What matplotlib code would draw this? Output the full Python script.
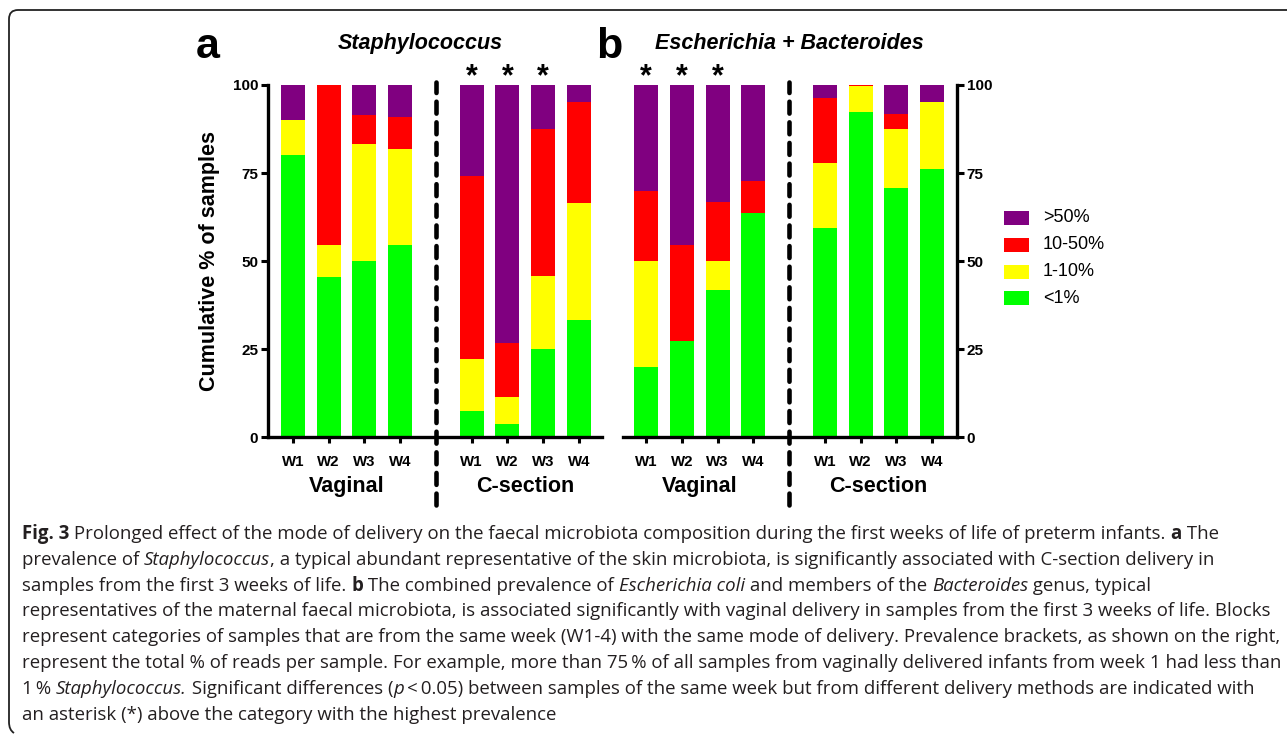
import matplotlib
matplotlib.use("Agg")
import matplotlib.pyplot as plt
from matplotlib.patches import Rectangle
from matplotlib.path import Path
from matplotlib.patches import PathPatch
from matplotlib.font_manager import FontProperties

# ---------------- data ----------------
weeks = ["W1", "W2", "W3", "W4"]
groups = ["Vaginal", "C-section"]
levels = ["<1%", "1-10%", "10-50%", ">50%"]
level_colors = ["#00FF00", "#FFFF00", "#FF0000", "#800080"]
legend_order = [">50%", "10-50%", "1-10%", "<1%"]

# Panel a: Staphylococcus (Vaginal W1-4, C-section W1-4)
a_lt1 = [80.0, 45.5, 50.0, 54.5, 7.4, 3.8, 25.0, 33.3]
a_1_10 = [10.0, 9.1, 33.3, 27.3, 14.8, 7.7, 20.8, 33.3]
a_10_50 = [0.0, 45.4, 8.3, 9.1, 51.9, 15.4, 41.7, 28.6]
a_gt50 = [10.0, 0.0, 8.4, 9.1, 25.9, 73.1, 12.5, 4.8]
a_sig = [False, False, False, False, True, True, True, False]

# Panel b: Escherichia + Bacteroides
b_lt1 = [20.0, 27.3, 41.7, 63.6, 59.3, 92.3, 70.8, 76.2]
b_1_10 = [30.0, 0.0, 8.3, 0.0, 18.5, 7.3, 16.7, 19.0]
b_10_50 = [20.0, 27.2, 16.7, 9.1, 18.5, 0.4, 4.2, 0.0]
b_gt50 = [30.0, 45.5, 33.3, 27.3, 3.7, 0.0, 8.3, 4.8]
b_sig = [True, True, True, False, False, False, False, False]

yticks = [0, 25, 50, 75, 100]
title_a = "Staphylococcus"
title_b = "Escherichia + Bacteroides"
ylabel = "Cumulative % of samples"

caption_lines = [
    [("Fig. 3", "b"), (" Prolonged effect of the mode of delivery on the faecal microbiota composition during the first weeks of life of preterm infants. ", ""), ("a", "b"), (" The", "")],
    [("prevalence of ", ""), ("Staphylococcus", "i"), (", a typical abundant representative of the skin microbiota, is significantly associated with C-section delivery in", "")],
    [("samples from the first 3 weeks of life. ", ""), ("b", "b"), (" The combined prevalence of ", ""), ("Escherichia coli", "i"), (" and members of the ", ""), ("Bacteroides", "i"), (" genus, typical", "")],
    [("representatives of the maternal faecal microbiota, is associated significantly with vaginal delivery in samples from the first 3 weeks of life. Blocks", "")],
    [("represent categories of samples that are from the same week (W1-4) with the same mode of delivery. Prevalence brackets, as shown on the right,", "")],
    [("represent the total % of reads per sample. For example, more than 75\u2009% of all samples from vaginally delivered infants from week 1 had less than", "")],
    [("1\u2009% ", ""), ("Staphylococcus.", "i"), (" Significant differences (", ""), ("p", "i"), ("\u2009<\u20090.05) between samples of the same week but from different delivery methods are indicated with", "")],
    [("an asterisk (*) above the category with the highest prevalence", "")],
]
# right end (px) of each caption line in the reference, used to size the font
caption_line_ends = [1253, 1247, 1210, 1257, 1262, 1275, 1261, 562]

# ---------------- layout ----------------
W, H = 1287, 735
fig = plt.figure(figsize=(W / 100, H / 100), dpi=100)
fig.patch.set_facecolor("white")

def fx(px):
    return px / W

def fy(py):
    return 1 - py / H

CF = "Liberation Sans"

positions = [g * 5 + i for g in range(len(groups)) for i in range(len(weeks))]
ticklabels = weeks * len(groups)

def draw_panel(ax, series, sig, side):
    bottom = [0.0] * len(positions)
    for vals, col in zip(series, level_colors):
        ax.bar(positions, vals, width=0.67, bottom=bottom, color=col,
               linewidth=0, zorder=2)
        bottom = [b + v for b, v in zip(bottom, vals)]
    ax.set_ylim(0, 100)
    ax.set_yticks(yticks)
    ax.set_yticklabels([str(t) for t in yticks], fontsize=11, fontweight="bold", family=CF)
    ax.set_xticks(positions)
    ax.set_xticklabels(ticklabels, fontsize=10.8, fontweight="bold", family=CF)
    ax.tick_params(axis="x", length=4, width=2.2, pad=9)
    ax.tick_params(axis="y", length=5, width=2.2, pad=2)
    for s in ["top", "left", "right"]:
        ax.spines[s].set_visible(False)
    ax.spines["bottom"].set_linewidth(2.4)
    ax.spines[side].set_visible(True)
    ax.spines[side].set_linewidth(2.4)
    if side == "right":
        ax.yaxis.tick_right()
    # separator
    ax.plot([4, 4], [-19.2, 100.9], color="black", lw=3.3, clip_on=False,
            dashes=(2.6, 1.9), dash_capstyle="round", zorder=3)
    # significance asterisks
    for p, s in zip(positions, sig):
        if s:
            ax.text(p, 100.0, "*", ha="center", va="baseline", fontsize=22,
                    fontweight="bold", family=CF, clip_on=False)
    # group labels
    for g, name in enumerate(groups):
        ax.text(g * 5 + 1.5, -15.5, name, ha="center", va="baseline",
                fontsize=15.5, fontweight="bold", family=CF, clip_on=False)

axa = fig.add_axes([fx(268), fy(437.3), fx(602) - fx(268), fy(85) - fy(437.3)])
axa.set_xlim(-0.7, 8.65)
draw_panel(axa, [a_lt1, a_1_10, a_10_50, a_gt50], a_sig, "left")
axa.set_ylabel(ylabel, fontsize=15.5, fontweight="bold", family=CF, labelpad=9)

axb = fig.add_axes([fx(623), fy(437.3), fx(957) - fx(623), fy(85) - fy(437.3)])
axb.set_xlim(-0.65, 8.7)
draw_panel(axb, [b_lt1, b_1_10, b_10_50, b_gt50], b_sig, "right")

# titles & panel letters
fig.text(fx(420.5), fy(49), title_a, ha="center", va="baseline", fontsize=15.5,
         fontweight="bold", fontstyle="italic", family=CF)
fig.text(fx(789), fy(49), title_b, ha="center", va="baseline", fontsize=15.5,
         fontweight="bold", fontstyle="italic", family=CF)
fig.text(fx(196), fy(58), "a", ha="left", va="baseline", fontsize=31,
         fontweight="bold", family=CF)
fig.text(fx(596), fy(58), "b", ha="left", va="baseline", fontsize=31,
         fontweight="bold", family=CF)

# legend
leg_y = [218, 245, 272, 298]
for lab, y in zip(legend_order, leg_y):
    col = level_colors[levels.index(lab)]
    fig.patches.append(Rectangle((fx(1004), fy(y + 7)), fx(25), 14 / H,
                                 transform=fig.transFigure, facecolor=col,
                                 edgecolor="none"))
    fig.text(fx(1043), fy(y), lab, ha="left", va="center", fontsize=13, family=CF)

# frame (top + left with rounded corners)
r = 9
verts = [(W, 10), (9 + r, 10), (9, 10), (9, 10 + r), (9, 722), (9, 730), (14, 733)]
codes = [Path.MOVETO, Path.LINETO, Path.CURVE3, Path.CURVE3, Path.LINETO, Path.CURVE3, Path.CURVE3]
vf = [(fx(x), fy(y)) for x, y in verts]
fig.patches.append(PathPatch(Path(vf, codes), transform=fig.transFigure,
                             facecolor="none", edgecolor="#222222", lw=1.3))

# caption with mixed styles
CAP = "Open Sans"
renderer = fig.canvas.get_renderer()

def seg_width(text, style, size):
    fp = FontProperties(family=[CAP, "DejaVu Sans"], size=size,
                        weight="bold" if "b" in style else "normal",
                        style="italic" if "i" in style else "normal")
    w1 = renderer.get_text_width_height_descent(text + "|", fp, ismath=False)[0]
    w2 = renderer.get_text_width_height_descent("|", fp, ismath=False)[0]
    return w1 - w2

def line_width(segs, size):
    return sum(seg_width(t, s, size) for t, s in segs)

x_left = 22
base = 10.0
widths = [line_width(segs, base) for segs in caption_lines]
ratios = sorted(base * (end - x_left) / w for w, end in zip(widths, caption_line_ends))
median = ratios[len(ratios) // 2]
cap = min(base * (1279 - x_left) / w for w in widths)
size = min(median, cap)

y0, dy = 539, 25.8
for i, segs in enumerate(caption_lines):
    x = x_left
    y = y0 + i * dy
    for t, s in segs:
        fig.text(fx(x), fy(y), t, ha="left", va="baseline", fontsize=size,
                 family=[CAP, "DejaVu Sans"],
                 fontweight="bold" if "b" in s else "normal",
                 fontstyle="italic" if "i" in s else "normal", color="#231f20")
        x += seg_width(t, s, size)

fig.savefig("out.png", dpi=100, facecolor="white")
